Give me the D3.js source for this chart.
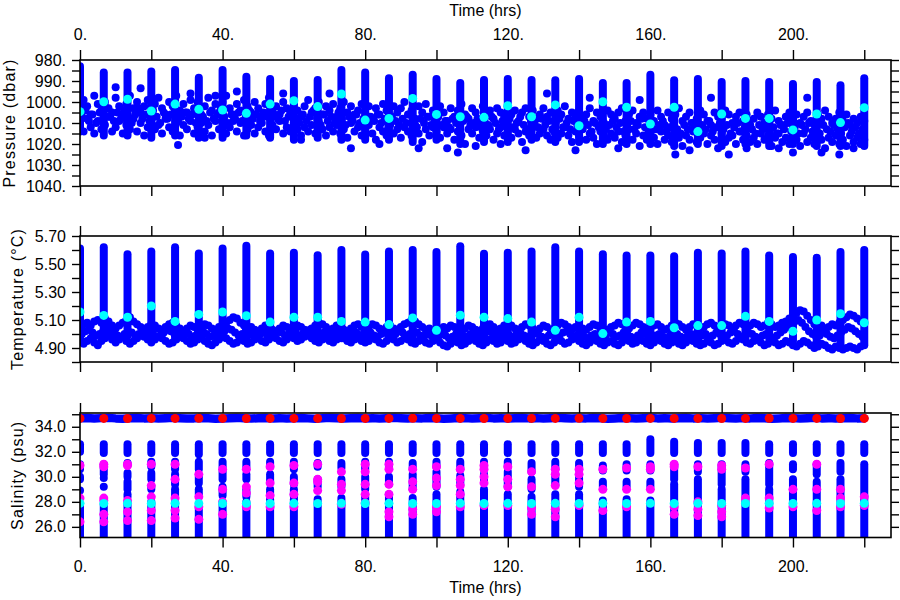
<!DOCTYPE html>
<html><head><meta charset="utf-8">
<script src="https://cdn.jsdelivr.net/npm/d3@7"></script>
<style>
body{margin:0;background:#fff}
svg{display:block}
text{font-family:"Liberation Sans",Arial,sans-serif;}
</style>
</head><body>
<svg id="c" width="900" height="600"></svg>
<script>
// ---------------- DATA ----------------
const profileHours = [0, 6.67, 13.33, 20, 26.67, 33.33, 40, 46.67, 53.33, 60,
  66.67, 73.33, 80, 86.67, 93.33, 100, 106.67, 113.33, 120, 126.67,
  133.33, 140, 146.67, 153.33, 160, 166.67, 173.33, 180, 186.67, 193.33,
  200, 206.67, 213.33, 220];

const xTickValues = [0, 20, 40, 60, 80, 100, 120, 140, 160, 180, 200, 220];
const xTickLabels = [0, 40, 80, 120, 160, 200];

// Pressure (dbar)
const presTicks = [980, 985, 990, 995, 1000, 1005, 1010, 1015, 1020, 1025, 1030, 1035, 1040];
const presTop = [983, 986, 986, 985.5, 984.8, 988.4, 984.8, 988, 989, 990,
  989.5, 984.8, 986, 988.7, 987, 989, 991, 989.5, 989, 989.5,
  989.7, 989, 991, 991, 987, 989.7, 989, 990.5, 990, 990.5,
  991.4, 990.5, 992, 988.7];
const presBottom = [1014, 1016, 1016, 1017, 1016, 1017, 1017, 1016, 1017, 1018,
  1017, 1018, 1018, 1018, 1019, 1018, 1020, 1019, 1019, 1018,
  1019, 1019, 1020, 1020, 1020, 1021, 1020, 1021, 1020, 1021,
  1020, 1021, 1021, 1021];
const presCyan = [1004.6, 999.9, 998.7, 1004.3, 1001, 1003.5, 1003.8, 1005.4, 1001, 999.4,
  1002.2, 996.2, 1008.6, 1007.8, 998.3, 1005.9, 1007, 1007.3, 1001.8, 1007,
  1001.4, 1011.3, 999.9, 1002.5, 1010.5, 1002.5, 1014.1, 1005.7, 1007.8, 1007.8,
  1013.3, 1005.7, 1009.8, 1002.7];
// hourly samples at parking depth (on the hour)
const presParkA = [
  1003, 999, 1002, 1006, 997, 1001, 1004, 1000, 1003, 1005,
  998, 1002, 1006, 1001, 997, 1003, 1000, 1005, 1002, 999,
  1004, 1001, 998, 1003, 1006, 1000, 1002, 997, 1004, 1001,
  1005, 999, 1003, 1000, 1006, 1002, 998, 1004, 1001, 1005,
  1000, 997, 1003, 1006, 1001, 1004, 999, 1002, 1005, 1000,
  1003, 1007, 1001, 998, 1004, 1002, 1006, 1000, 1003, 1005,
  1001, 1004, 1007, 1002, 999, 1005, 1003, 1000, 1006, 1002,
  1004, 1001, 1007, 1003, 1000, 1005, 1002, 1006, 1004, 1001,
  1005, 1002, 1008, 1003, 1006, 1001, 1004, 1007, 1002, 1005,
  1003, 1000, 1006, 1004, 1008, 1002, 1005, 1001, 1007, 1004,
  1006, 1002, 1005, 1009, 1003, 1007, 1004, 1001, 1006, 1008,
  1003, 1005, 1009, 1002, 1006, 1004, 1008, 1003, 1005, 1007,
  1002, 1006, 1004, 1009, 1005, 1003, 1007, 1004, 1008, 1006,
  1003, 1007, 1005, 1009, 1004, 1006, 1002, 1008, 1005, 1007,
  1004, 1008, 1006, 1003, 1009, 1005, 1007, 1010, 1004, 1006,
  1008, 1005, 1003, 1009, 1006, 1004, 1010, 1007, 1005, 1008,
  1006, 1009, 1004, 1007, 1011, 1005, 1008, 1006, 1003, 1009,
  1007, 1005, 1010, 1008, 1004, 1006, 1009, 1011, 1005, 1007,
  1008, 1004, 1006, 1010, 1007, 1005, 1009, 1006, 1011, 1008,
  1005, 1007, 1010, 1006, 1008, 1004, 1009, 1011, 1007, 1005,
  1008, 1006, 1010, 1007, 1005, 1009, 1011, 1006, 1008, 1004,
  1007, 1010, 1008, 1005, 1009, 1006, 1011, 1008, 1010, 1007,
  1009];
const presParkB = [
  1010, 1014, 1008, 1012, 1015, 1009, 1013, 1011, 1007, 1014,
  1012, 1009, 1015, 1011, 1013, 1008, 1014, 1010, 1016, 1012,
  1009, 1013, 1011, 1015, 1008, 1012, 1014, 1010, 1016, 1011,
  1013, 1009, 1015, 1012, 1010, 1014, 1011, 1016, 1009, 1013,
  1011, 1015, 1012, 1009, 1014, 1010, 1016, 1013, 1011, 1015,
  1012, 1010, 1014, 1016, 1011, 1013, 1009, 1015, 1012, 1014,
  1010, 1013, 1016, 1012, 1014, 1011, 1015, 1009, 1013, 1016,
  1012, 1014, 1011, 1015, 1013, 1017, 1010, 1014, 1012, 1016,
  1013, 1011, 1015, 1018, 1012, 1014, 1016, 1011, 1015, 1013,
  1017, 1012, 1014, 1016, 1011, 1015, 1019, 1013, 1016, 1012,
  1014, 1017, 1012, 1015, 1013, 1018, 1014, 1016, 1020, 1013,
  1015, 1012, 1017, 1014, 1016, 1013, 1018, 1015, 1012, 1016,
  1014, 1017, 1013, 1015, 1019, 1014, 1016, 1012, 1017, 1015,
  1013, 1016, 1018, 1014, 1017, 1015, 1012, 1016, 1019, 1014,
  1016, 1013, 1018, 1015, 1017, 1020, 1014, 1016, 1018, 1015,
  1017, 1014, 1019, 1016, 1013, 1018, 1015, 1021, 1016, 1018,
  1015, 1017, 1020, 1014, 1018, 1016, 1019, 1015, 1017, 1021,
  1016, 1018, 1014, 1019, 1017, 1015, 1020, 1016, 1018, 1022,
  1015, 1019, 1017, 1016, 1020, 1014, 1018, 1016, 1019, 1017,
  1020, 1015, 1018, 1016, 1021, 1017, 1015, 1019, 1017, 1020,
  1016, 1018, 1021, 1015, 1019, 1017, 1020, 1016, 1018, 1022,
  1017, 1019, 1016, 1020, 1018, 1021, 1016, 1019, 1017, 1020,
  1018];
// hourly samples at parking depth (on the half hour)
const presParkC = [
  1007, 1004, 1009, 1006, 1010, 1005, 1008, 1003, 1007, 1009,
  1005, 1008, 1004, 1007, 1010, 1006, 1003, 1008, 1006, 1009,
  1004, 1007, 1010, 1005, 1008, 1006, 1003, 1009, 1007, 1005,
  1008, 1006, 1010, 1004, 1007, 1009, 1005, 1008, 1006, 1003,
  1007, 1010, 1006, 1008, 1005, 1009, 1007, 1004, 1008, 1006,
  1009, 1005, 1007, 1010, 1006, 1008, 1004, 1009, 1007, 1005,
  1008, 1010, 1006, 1009, 1007, 1004, 1008, 1011, 1006, 1009,
  1007, 1010, 1005, 1008, 1011, 1007, 1009, 1006, 1010, 1008,
  1011, 1007, 1009, 1006, 1010, 1008, 1012, 1007, 1009, 1011,
  1008, 1010, 1006, 1009, 1012, 1008, 1010, 1007, 1011, 1009,
  1007, 1011, 1009, 1012, 1008, 1010, 1013, 1009, 1007, 1011,
  1010, 1008, 1012, 1009, 1011, 1007, 1010, 1013, 1009, 1011,
  1008, 1012, 1010, 1007, 1011, 1013, 1009, 1010, 1012, 1008,
  1011, 1009, 1013, 1010, 1008, 1012, 1010, 1013, 1009, 1011,
  1012, 1009, 1011, 1014, 1010, 1012, 1008, 1013, 1011, 1009,
  1012, 1010, 1014, 1011, 1009, 1013, 1011, 1008, 1012, 1014,
  1010, 1013, 1011, 1009, 1014, 1012, 1010, 1013, 1015, 1011,
  1013, 1010, 1012, 1015, 1011, 1013, 1009, 1014, 1012, 1010,
  1013, 1011, 1015, 1012, 1010, 1014, 1012, 1009, 1013, 1015,
  1011, 1013, 1010, 1014, 1012, 1015, 1011, 1013, 1010, 1014,
  1012, 1015, 1011, 1013, 1010, 1014, 1012, 1015, 1011, 1013,
  1014, 1011, 1013, 1015, 1012, 1010, 1014, 1012, 1015, 1013];
const presOutliers = [[10, 993], [17, 993.5], [27.5, 1020.5], [31, 996], [35, 1017], [38, 997],
  [44, 995], [57, 996], [62, 1018], [70, 996], [76, 1022], [84, 1020], [95, 1022],
  [103, 1022], [106, 1024], [111, 1021], [118, 1020], [125, 1023], [131, 996], [139, 1023],
  [143, 998], [151, 1022], [157, 999], [167, 1025], [171, 1023], [177, 998], [182, 1025],
  [187, 1022], [196, 1022], [200, 1024], [204, 998], [208, 1024], [213, 1025], [217, 1022]];

// Temperature (degC)
const tempTicks = [4.8, 4.9, 5.0, 5.1, 5.2, 5.3, 5.4, 5.5, 5.6, 5.7];
const tempTop = [5.61, 5.62, 5.57, 5.59, 5.62, 5.575, 5.61, 5.63, 5.575, 5.58,
  5.562, 5.60, 5.567, 5.59, 5.60, 5.586, 5.626, 5.574, 5.58, 5.59,
  5.62, 5.59, 5.57, 5.56, 5.56, 5.555, 5.58, 5.575, 5.59, 5.56,
  5.55, 5.545, 5.585, 5.60];
const tempBottom = [4.97, 4.98, 4.99, 4.98, 4.97, 4.98, 4.99, 4.97, 4.98, 4.99,
  4.98, 4.97, 4.98, 4.99, 4.97, 4.98, 4.96, 4.97, 4.98, 4.97,
  4.96, 4.97, 4.96, 4.97, 4.96, 4.97, 4.96, 4.97, 4.96, 4.97,
  4.95, 4.94, 4.93, 4.93];
const tempCyan = [5.157, 5.133, 5.12, 5.20, 5.09, 5.14, 5.157, 5.13, 5.085, 5.12,
  5.12, 5.09, 5.085, 5.067, 5.115, 5.026, 5.134, 5.12, 5.11, 5.085,
  5.026, 5.12, 5.003, 5.085, 5.09, 5.045, 5.06, 5.06, 5.126, 5.09,
  5.02, 5.10, 5.145, 5.08];
const tempParkA = [
  5.05, 5.07, 5.08, 5.06, 5.09, 5.10, 5.08, 5.11, 5.09, 5.06,
  5.04, 5.06, 5.08, 5.10, 5.12, 5.09, 5.07, 5.05, 5.03, 5.05,
  5.07, 5.06, 5.04, 5.03, 5.05, 5.07, 5.08, 5.06, 5.04, 5.02,
  5.04, 5.06, 5.05, 5.03, 5.05, 5.07, 5.06, 5.04, 5.03, 5.05,
  5.06, 5.08, 5.10, 5.12, 5.11, 5.08, 5.06, 5.04, 5.05, 5.03,
  5.02, 5.04, 5.06, 5.05, 5.03, 5.02, 5.04, 5.06, 5.05, 5.03,
  5.04, 5.06, 5.05, 5.03, 5.02, 5.04, 5.06, 5.08, 5.07, 5.05,
  5.03, 5.04, 5.06, 5.05, 5.03, 5.02, 5.04, 5.06, 5.07, 5.05,
  5.03, 5.05, 5.07, 5.06, 5.04, 5.03, 5.05, 5.06, 5.04, 5.03,
  5.05, 5.07, 5.08, 5.10, 5.09, 5.07, 5.05, 5.03, 5.04, 5.02,
  5.01, 5.03, 5.05, 5.04, 5.06, 5.05, 5.03, 5.02, 5.04, 5.06,
  5.05, 5.03, 5.02, 5.04, 5.06, 5.07, 5.05, 5.03, 5.04, 5.06,
  5.07, 5.06, 5.04, 5.03, 5.05, 5.07, 5.06, 5.04, 5.02, 5.04,
  5.06, 5.05, 5.03, 5.04, 5.06, 5.08, 5.07, 5.05, 5.03, 5.05,
  5.06, 5.04, 5.03, 5.05, 5.07, 5.06, 5.04, 5.02, 5.03, 5.05,
  5.06, 5.08, 5.07, 5.05, 5.04, 5.06, 5.08, 5.07, 5.05, 5.03,
  5.04, 5.06, 5.07, 5.05, 5.03, 5.04, 5.06, 5.08, 5.07, 5.05,
  5.03, 5.05, 5.07, 5.06, 5.04, 5.05, 5.07, 5.08, 5.06, 5.04,
  5.05, 5.07, 5.06, 5.04, 5.06, 5.08, 5.07, 5.05, 5.06, 5.08,
  5.07, 5.05, 5.06, 5.08, 5.07, 5.05, 5.06, 5.08, 5.09, 5.11,
  5.13, 5.15, 5.17, 5.16, 5.13, 5.10, 5.07, 5.05, 5.06, 5.04,
  5.05, 5.07, 5.06, 5.08, 5.10, 5.12, 5.14, 5.13, 5.11, 5.09,
  5.08];
const tempParkB = [
  4.96, 4.93, 4.95, 4.97, 4.94, 4.92, 4.95, 4.97, 4.99, 4.96,
  4.94, 4.96, 4.98, 4.95, 4.93, 4.95, 4.97, 4.99, 4.98, 4.96,
  4.94, 4.96, 4.98, 4.97, 4.95, 4.93, 4.94, 4.96, 4.98, 4.97,
  4.95, 4.93, 4.94, 4.96, 4.97, 4.95, 4.93, 4.92, 4.94, 4.96,
  4.98, 4.97, 4.95, 4.93, 4.94, 4.96, 4.95, 4.93, 4.94, 4.96,
  4.97, 4.95, 4.94, 4.96, 4.98, 4.97, 4.95, 4.94, 4.96, 4.98,
  4.97, 4.95, 4.96, 4.98, 4.99, 4.97, 4.95, 4.94, 4.96, 4.97,
  4.95, 4.94, 4.96, 4.98, 4.97, 4.95, 4.94, 4.96, 4.97, 4.95,
  4.94, 4.95, 4.97, 4.96, 4.94, 4.93, 4.95, 4.97, 4.96, 4.94,
  4.95, 4.97, 4.96, 4.94, 4.93, 4.95, 4.96, 4.94, 4.93, 4.95,
  4.96, 4.94, 4.92, 4.91, 4.93, 4.95, 4.94, 4.92, 4.93, 4.95,
  4.97, 4.95, 4.93, 4.92, 4.94, 4.96, 4.95, 4.93, 4.94, 4.96,
  4.95, 4.93, 4.94, 4.96, 4.97, 4.95, 4.93, 4.92, 4.94, 4.96,
  4.95, 4.93, 4.92, 4.94, 4.96, 4.95, 4.93, 4.94, 4.96, 4.97,
  4.95, 4.93, 4.92, 4.94, 4.96, 4.95, 4.93, 4.92, 4.94, 4.95,
  4.93, 4.92, 4.94, 4.96, 4.95, 4.93, 4.94, 4.96, 4.95, 4.93,
  4.92, 4.94, 4.96, 4.95, 4.93, 4.92, 4.94, 4.95, 4.93, 4.92,
  4.94, 4.96, 4.95, 4.93, 4.92, 4.93, 4.95, 4.94, 4.92, 4.93,
  4.95, 4.96, 4.94, 4.93, 4.95, 4.97, 4.96, 4.94, 4.93, 4.95,
  4.96, 4.94, 4.92, 4.93, 4.95, 4.94, 4.92, 4.93, 4.95, 4.94,
  4.92, 4.91, 4.93, 4.95, 4.94, 4.92, 4.90, 4.91, 4.93, 4.92,
  4.90, 4.89, 4.91, 4.90, 4.89, 4.90, 4.91, 4.90, 4.89, 4.91,
  4.92];
const tempParkC = [
  5.00, 5.02, 5.03, 5.01, 4.99, 5.00, 5.02, 5.04, 5.03, 5.01,
  4.99, 4.98, 5.00, 5.02, 5.01, 4.99, 5.00, 5.02, 5.03, 5.01,
  5.00, 4.98, 4.99, 5.01, 5.03, 5.02, 5.00, 4.99, 5.01, 5.02,
  5.00, 4.98, 4.99, 5.01, 5.02, 5.00, 4.98, 4.99, 5.01, 5.00,
  5.02, 5.04, 5.03, 5.01, 4.99, 5.00, 5.02, 5.01, 4.99, 4.98,
  5.00, 5.01, 4.99, 4.98, 5.00, 5.02, 5.01, 4.99, 5.00, 5.02,
  5.01, 4.99, 5.00, 5.02, 5.03, 5.01, 4.99, 5.00, 5.01, 4.99,
  4.98, 5.00, 5.02, 5.01, 4.99, 4.98, 5.00, 5.01, 4.99, 5.00,
  5.02, 5.01, 4.99, 4.98, 5.00, 5.01, 4.99, 4.98, 5.00, 5.02,
  5.01, 4.99, 5.00, 5.02, 5.01, 4.99, 4.98, 5.00, 4.99, 4.97,
  4.98, 5.00, 4.99, 4.97, 4.98, 5.00, 5.01, 4.99, 4.98, 5.00,
  5.01, 4.99, 4.98, 5.00, 5.02, 5.01, 4.99, 4.98, 5.00, 5.01,
  4.99, 4.98, 5.00, 5.01, 4.99, 4.98, 4.99, 5.01, 5.00, 4.98,
  4.97, 4.99, 5.00, 4.98, 4.99, 5.01, 5.02, 5.00, 4.98, 4.99,
  5.00, 4.98, 4.97, 4.99, 5.00, 4.98, 4.97, 4.99, 5.01, 5.00,
  4.98, 4.99, 5.01, 5.00, 4.98, 4.97, 4.99, 5.01, 5.00, 4.98,
  4.97, 4.99, 5.00, 4.98, 4.97, 4.99, 5.01, 5.00, 4.98, 4.97,
  4.99, 5.00, 4.98, 4.97, 4.99, 5.00, 4.98, 4.99, 5.01, 5.00,
  4.98, 4.99, 5.01, 5.02, 5.00, 4.98, 4.99, 5.01, 5.00, 4.98,
  4.97, 4.99, 5.00, 4.98, 4.97, 4.99, 5.01, 5.03, 5.05, 5.07,
  5.09, 5.10, 5.08, 5.05, 5.02, 5.00, 4.98, 4.99, 5.01, 5.00,
  4.98, 4.97, 4.99, 5.01, 5.03, 5.05, 5.04, 5.02, 5.00, 4.98];

// Salinity (psu)
const salTicks = [26, 27, 28, 29, 30, 31, 32, 33, 34, 35];
const salBlue = [
  [[32.0,32.6],[30.6,31.0],[29.8,30.0],[28.9,28.9],[25,27.6]],
  [[31.9,32.6],[30.2,31.0],[29.9,29.9],[29.2,29.2],[25,27.8]],
  [[31.9,32.6],[31.0,31.1],[30.0,30.3],[29.0,29.6],[28.4,28.6],[25,27.9]],
  [[31.9,32.6],[30.8,31.2],[29.8,30.3],[29.0,29.2],[25,28.0]],
  [[31.9,32.6],[30.6,31.2],[29.4,30.2],[28.5,29.0],[25,28.0]],
  [[31.8,32.6],[30.6,31.2],[29.5,30.0],[28.6,29.0],[25,27.6]],
  [[31.9,32.6],[30.8,31.2],[29.8,30.4],[28.5,29.2],[25,27.8]],
  [[31.9,32.6],[30.8,31.2],[29.8,30.2],[28.4,29.0],[25,28.0]],
  [[31.9,32.6],[30.8,31.2],[29.6,30.2],[28.6,29.0],[25,28.2]],
  [[31.9,32.6],[30.6,31.2],[29.4,30.0],[28.4,29.0],[25,28.2]],
  [[31.9,32.6],[30.8,31.1],[29.2,29.8],[25,28.2]],
  [[31.9,32.6],[30.7,31.1],[29.2,29.8],[25,28.3]],
  [[31.9,32.6],[30.6,31.2],[29.0,30.0],[25,28.4]],
  [[31.9,32.6],[30.7,31.2],[29.4,30.0],[25,28.6]],
  [[31.9,32.6],[30.7,31.1],[29.0,30.2],[25,28.3]],
  [[31.9,32.6],[30.8,31.2],[29.2,30.4],[25,28.6]],
  [[31.9,32.6],[30.6,31.2],[29.4,30.1],[25,28.8]],
  [[31.9,32.6],[30.6,31.2],[29.6,30.2],[25,29.0]],
  [[31.9,32.6],[30.8,31.2],[29.2,30.4],[25,28.6]],
  [[31.9,32.6],[30.4,31.1],[29.0,29.8],[25,28.4]],
  [[31.9,32.6],[30.6,31.2],[29.4,30.2],[25,28.6]],
  [[31.9,32.6],[30.6,31.1],[29.2,29.9],[25,28.6]],
  [[31.9,32.6],[30.5,30.9],[29.2,29.6],[25,28.1]],
  [[31.9,32.6],[30.5,31.0],[29.2,29.6],[25,28.2]],
  [[31.9,33.0],[30.5,31.0],[29.2,29.6],[25,28.1]],
  [[31.9,32.8],[29.8,31.0],[25,29.4]],
  [[31.9,32.7],[30.4,31.0],[25,29.8]],
  [[31.9,32.7],[29.4,31.0],[25,29.0]],
  [[31.9,32.7],[30.4,31.0],[25,29.8]],
  [[31.9,32.6],[29.4,31.1],[25,29.0]],
  [[31.9,32.6],[30.6,31.0],[25,29.8]],
  [[31.9,32.6],[30.2,31.0],[25,29.6]],
  [[31.9,32.6],[30.4,31.1],[25,29.8]],
  [[31.9,32.6],[25,31.0]]
];
const salMagenta = [
  [30.9, 28.3, 26.4], [31.0, 30.8, 28.3, 28.1, 27.0, 26.4], [31.0, 30.9, 28.1, 27.9, 27.2, 26.5],
  [31.0, 29.3, 28.4, 27.3, 26.5], [31.0, 29.8, 28.3, 27.3, 26.7], [30.2, 28.4, 27.6, 26.6],
  [30.6, 29.0, 28.0, 27.0], [30.6, 29.2, 28.7, 27.6], [30.8, 29.5, 28.5, 27.6],
  [30.9, 29.5, 28.6, 27.6], [31.0, 29.8, 29.6, 28.9], [30.4, 29.4, 28.9, 27.8],
  [31.0, 30.4, 29.4, 28.6, 27.9], [31.0, 30.6, 29.4, 28.6, 27.2, 26.8], [30.6, 29.6, 29.0, 27.4, 27.0],
  [30.8, 29.9, 29.3, 27.6, 27.2], [30.6, 29.8, 29.3, 28.6, 27.6], [30.9, 30.6, 30.0, 29.5, 27.7],
  [30.8, 29.8, 29.2, 27.7], [30.4, 29.2, 27.5, 27.0], [30.6, 30.2, 29.3, 27.4, 26.8],
  [30.6, 30.2, 29.5, 27.7], [30.6, 29.0, 27.3], [30.7, 29.0, 27.6], [30.8, 30.6, 29.0],
  [31.0, 30.8, 27.6, 27.0], [30.8, 28.0, 27.4, 26.9], [30.9, 30.6, 27.7, 27.2, 26.8],
  [30.7, 28.3], [31.0, 28.3, 27.5], [29.0, 27.6], [31.0, 29.0, 27.3], [29.0, 28.3, 27.6], [28.4, 27.7]
];
const salCyan = [27.88, 27.87, 27.88, 27.87, 27.88, 27.87, 27.87, 27.88, 27.87, 27.88,
  27.87, 27.88, 27.87, 27.88, 27.87, 27.87, 27.88, 27.87, 27.88, 27.87,
  27.88, 27.87, 27.88, 27.87, 27.88, 27.87, 27.88, 27.87, 27.87, 27.88,
  27.87, 27.88, 27.87, 27.88];
const salRed = [34.67, 34.67, 34.66, 34.67, 34.67, 34.68, 34.67, 34.66, 34.67, 34.67,
  34.67, 34.66, 34.67, 34.67, 34.68, 34.67, 34.67, 34.66, 34.67, 34.67,
  34.67, 34.68, 34.67, 34.66, 34.67, 34.67, 34.67, 34.66, 34.67, 34.68,
  34.67, 34.67, 34.66, 34.67];
// 2-hourly parking-depth salinity
const salPark = [
  34.68,34.70,34.66,34.69,34.71,34.67,34.65,34.68,34.70,34.67,
  34.69,34.66,34.68,34.71,34.69,34.66,34.67,34.70,34.68,34.65,
  34.67,34.69,34.71,34.68,34.66,34.68,34.70,34.67,34.69,34.66,
  34.68,34.70,34.67,34.65,34.68,34.71,34.69,34.66,34.68,34.70,
  34.67,34.69,34.66,34.68,34.71,34.68,34.66,34.69,34.67,34.70,
  34.68,34.65,34.67,34.70,34.69,34.66,34.68,34.71,34.67,34.69,
  34.66,34.68,34.70,34.67,34.69,34.66,34.68,34.71,34.68,34.66,
  34.69,34.67,34.70,34.68,34.65,34.67,34.70,34.69,34.66,34.68,
  34.71,34.67,34.69,34.66,34.68,34.70,34.67,34.69,34.66,34.68,
  34.71,34.68,34.66,34.69,34.67,34.70,34.68,34.65,34.67,34.70,
  34.69,34.66,34.68,34.71,34.67,34.69,34.66,34.68,34.70,34.67,
  34.68];

// ---------------- CHART ----------------
const BLUE = "#0000ff", CYAN = "#00ffff", MAGENTA = "#ff00ff", RED = "#ff0000";
const FONT = '"Liberation Sans", Arial, sans-serif';
const svg = d3.select("#c");
const X0 = 80, X1 = 891;
const x = d3.scaleLinear().domain([0, 227.5]).range([X0, X1]);
const parkHours = d3.range(0, presParkA.length);          // sampling grid, on the hour
const parkHalfHours = d3.range(0, presParkC.length).map(i => i + 0.5); // on the half hour
const salHours = d3.range(0, salPark.length).map(i => i * 2); // 2-hourly grid

function dots(g, data, fx, fy, r, color) {
  g.selectAll(null).data(data).enter().append("circle")
    .attr("cx", fx).attr("cy", fy).attr("r", r).attr("fill", color);
}
function columns(g, y, segs, color) {
  g.selectAll(null).data(segs).enter().append("rect")
    .attr("x", d => x(d[0]) - 4)
    .attr("y", d => Math.min(y(d[1]), y(d[2])) - 4)
    .attr("width", 8)
    .attr("height", d => Math.abs(y(d[1]) - y(d[2])) + 8)
    .attr("rx", 4).attr("ry", 4)
    .attr("fill", color);
}
const pairs = (hrs, vals) => hrs.map((h, i) => [h, vals[i]]);

function panel(cfg) {
  const { id, top, bottom, y, ticks, fmt, title, titleX, topLabels, bottomLabels } = cfg;
  svg.append("clipPath").attr("id", "clip" + id)
    .append("rect").attr("x", X0).attr("y", top).attr("width", X1 - X0).attr("height", bottom - top);
  const plot = svg.append("g").attr("clip-path", `url(#clip${id})`);
  cfg.draw(plot, y);

  const styleAxis = g => {
    g.select(".domain").remove();
    g.selectAll("line").attr("stroke", "#000").attr("stroke-width", 1.4);
    g.attr("font-size", 16).attr("font-family", FONT);
    g.selectAll("text").attr("fill", "#000");
  };
  svg.append("g").attr("transform", `translate(${X0},0)`)
    .call(d3.axisLeft(y).tickValues(ticks).tickSize(8).tickSizeOuter(0).tickPadding(6).tickFormat(fmt))
    .call(styleAxis);
  svg.append("g").attr("transform", `translate(${X1},0)`)
    .call(d3.axisRight(y).tickValues(ticks).tickSize(8).tickSizeOuter(0).tickFormat(""))
    .call(styleAxis);
  const xf = d => xTickLabels.includes(d) ? d + "." : "";
  svg.append("g").attr("transform", `translate(0,${top})`)
    .call(d3.axisTop(x).tickValues(xTickValues).tickSize(10).tickSizeOuter(0).tickPadding(10)
      .tickFormat(topLabels ? xf : ""))
    .call(styleAxis);
  svg.append("g").attr("transform", `translate(0,${bottom})`)
    .call(d3.axisBottom(x).tickValues(xTickValues).tickSize(10).tickSizeOuter(0).tickPadding(13)
      .tickFormat(bottomLabels ? xf : ""))
    .call(styleAxis);

  svg.append("rect").attr("x", X0).attr("y", top).attr("width", X1 - X0).attr("height", bottom - top)
    .attr("fill", "none").attr("stroke", "#000").attr("stroke-width", 1.6);

  svg.append("text")
    .attr("transform", `translate(${titleX},${(top + bottom) / 2}) rotate(-90)`)
    .attr("text-anchor", "middle").attr("font-size", 16).attr("font-family", FONT)
    .attr("letter-spacing", "1.2px").attr("fill", "#000")
    .text(title);
}

// Panel 1: Pressure
panel({
  id: 1, top: 60, bottom: 186,
  y: d3.scaleLinear().domain([980, 1040]).range([60, 186]),
  ticks: presTicks, fmt: d => d % 10 === 0 ? d + "." : "",
  title: "Pressure (dbar)", titleX: 15, topLabels: true, bottomLabels: false,
  draw(g, y) {
    const fx = d => x(d[0]), fy = d => y(d[1]);
    dots(g, pairs(parkHours, presParkA), fx, fy, 4, BLUE);
    dots(g, pairs(parkHours, presParkB), fx, fy, 4, BLUE);
    dots(g, pairs(parkHalfHours, presParkC), fx, fy, 4, BLUE);
    dots(g, presOutliers, fx, fy, 4, BLUE);
    columns(g, y, profileHours.map((h, i) => [h, presBottom[i], presTop[i]]), BLUE);
    dots(g, pairs(profileHours, presCyan), fx, fy, 4.5, CYAN);
  }
});

// Panel 2: Temperature
panel({
  id: 2, top: 236, bottom: 362,
  y: d3.scaleLinear().domain([4.8, 5.7]).range([362, 236]),
  ticks: tempTicks, fmt: d => Math.round(d * 10) % 2 === 1 ? d.toFixed(2) : "",
  title: "Temperature (\u00B0C)", titleX: 23, topLabels: false, bottomLabels: false,
  draw(g, y) {
    const fx = d => x(d[0]), fy = d => y(d[1]);
    dots(g, pairs(parkHours, tempParkA), fx, fy, 4, BLUE);
    dots(g, pairs(parkHours, tempParkB), fx, fy, 4, BLUE);
    dots(g, pairs(parkHalfHours, tempParkC), fx, fy, 4, BLUE);
    columns(g, y, profileHours.map((h, i) => [h, tempBottom[i], tempTop[i]]), BLUE);
    dots(g, pairs(profileHours, tempCyan), fx, fy, 4.5, CYAN);
  }
});

// Panel 3: Salinity
panel({
  id: 3, top: 413, bottom: 537.5,
  y: d3.scaleLinear().domain([25.15, 35.1]).range([537.5, 413]),
  ticks: salTicks, fmt: d => (d % 2 === 0 && d < 35) ? d.toFixed(1) : "",
  title: "Salinity (psu)", titleX: 23, topLabels: false, bottomLabels: true,
  draw(g, y) {
    const fx = d => x(d[0]), fy = d => y(d[1]);
    const segs = [];
    salBlue.forEach((list, i) => list.forEach(s => segs.push([profileHours[i], s[0], s[1]])));
    columns(g, y, segs, BLUE);
    g.append("path")
      .datum(pairs(salHours, salPark))
      .attr("d", d3.line().x(fx).y(fy))
      .attr("fill", "none").attr("stroke", BLUE).attr("stroke-width", 8.5)
      .attr("stroke-linecap", "round").attr("stroke-linejoin", "round");
    const mag = [];
    salMagenta.forEach((list, i) => list.forEach(v => mag.push([profileHours[i], v])));
    dots(g, mag, fx, fy, 4.5, MAGENTA);
    dots(g, pairs(profileHours, salCyan), fx, fy, 4.5, CYAN);
    dots(g, pairs(profileHours, salRed), fx, fy, 4.5, RED);
  }
});

// X axis titles
svg.append("text").attr("x", (X0 + X1) / 2).attr("y", 16).attr("text-anchor", "middle")
  .attr("font-size", 16).attr("font-family", FONT).attr("fill", "#000").text("Time (hrs)");
svg.append("text").attr("x", (X0 + X1) / 2).attr("y", 593).attr("text-anchor", "middle")
  .attr("font-size", 16).attr("font-family", FONT).attr("fill", "#000").text("Time (hrs)");
</script>
</body></html>
